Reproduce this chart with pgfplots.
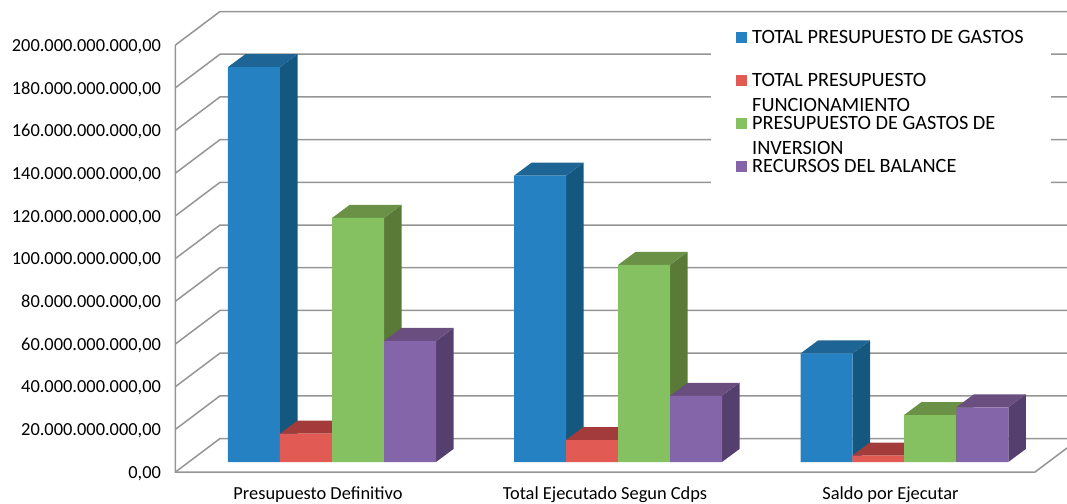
\documentclass[border=0pt]{standalone}
\usepackage{fontspec}
\setmainfont{Carlito}
\usepackage{pgfplots}
\usepackage{pgfplotstable}
\pgfplotsset{compat=1.18}
\definecolor{gridc}{HTML}{959595}
\definecolor{bF}{HTML}{2681C2}\definecolor{bS}{HTML}{15587F}\definecolor{bT}{HTML}{1E6595}
\definecolor{rF}{HTML}{E15A53}\definecolor{rS}{HTML}{8E3230}\definecolor{rT}{HTML}{A33B3B}
\definecolor{gF}{HTML}{85C161}\definecolor{gS}{HTML}{5A7A38}\definecolor{gT}{HTML}{6A9145}
\definecolor{pF}{HTML}{8565A9}\definecolor{pS}{HTML}{553F6E}\definecolor{pT}{HTML}{6A4E80}
% values in thousands of millions
\pgfplotstableread{
x v
254 185.0
540 134.1
826.7 50.9
}\totalgastos
\pgfplotstableread{
x v
306 13.3
592 10.3
878.3 3.0
}\funcionamiento
\pgfplotstableread{
x v
358 114.3
644 92.3
930 22.0
}\inversion
\pgfplotstableread{
x v
410 56.7
696 31.0
982.3 25.6
}\balance
% side and top faces: left edge, value, side colour, top colour
\newcommand{\depthfaces}[4]{%
  \pgfmathsetmacro\xa{#1+52}\pgfmathsetmacro\xb{#1+69.5}\pgfmathsetmacro\xc{#1+17.5}\pgfmathsetmacro\vt{#2+6.09}%
  \edef\tmp{\noexpand\addplot[fill=#3,draw=none,forget plot] coordinates {(\xa,0)(\xb,6.09)(\xb,\vt)(\xa,#2)} --cycle;
  \noexpand\addplot[fill=#4,draw=none,forget plot] coordinates {(#1,#2)(\xa,#2)(\xb,\vt)(\xc,\vt)} --cycle;}\tmp}
\newcommand{\gridl}[1]{%
  \pgfmathsetmacro\va{#1-4.68}\pgfmathsetmacro\vb{#1+11}%
  \edef\tmp{\noexpand\addplot[gridc,line width=1.5pt,forget plot] coordinates {(175.5,\va)(220,\vb)(1067,\vb)};}\tmp}
\newcommand{\LE}[2]{\hspace*{3pt}\smash{\rlap{\raisebox{-25pt}{#2}}}#1}
\pgfplotsset{swatch/.style={legend image code/.code={\fill[##1] (0pt,-5.5pt) rectangle (11pt,5.5pt);}}}
\begin{document}
\begin{tikzpicture}[x=1pt,y=1pt]
\path[use as bounding box] (-175.5,-31) rectangle (891.5,472);
\begin{axis}[
  scale only axis,width=891.5pt,height=472pt,
  xmin=175.5,xmax=1067,ymin=-4.68,ymax=216.4,
  axis line style={draw=none},
  major tick length=0pt,
  clip=false,
  ytick={-4.68,15.32,35.32,55.32,75.32,95.32,115.32,135.32,155.32,175.32,195.32},
  yticklabels={{0,00},{20.000.000.000,00},{40.000.000.000,00},{60.000.000.000,00},{80.000.000.000,00},{100.000.000.000,00},{120.000.000.000,00},{140.000.000.000,00},{160.000.000.000,00},{180.000.000.000,00},{200.000.000.000,00}},
  yticklabel style={font=\fontsize{18.4}{22}\selectfont,xshift=-11pt,yshift=-1.5pt,text=black},
  xtick={318,605,890.5},
  xticklabels={Presupuesto Definitivo,Total Ejecutado Segun Cdps,Saldo por Ejecutar},
  xticklabel style={font=\fontsize{18.4}{22}\selectfont,yshift=-11.5pt,text=black},
  legend style={at={(axis cs:711,208.9)},anchor=north west,draw=none,fill=white,
    font=\fontsize{20.3}{24}\selectfont,inner xsep=25pt,inner ysep=12pt,row sep=24.4pt},
  legend cell align=left,
]
\gridl{0}\gridl{20}\gridl{40}\gridl{60}\gridl{80}\gridl{100}\gridl{120}\gridl{140}\gridl{160}\gridl{180}\gridl{200}
\addplot[gridc,line width=1.5pt,forget plot] coordinates {(175.5,195.32)(175.5,-4.68)(1035,-4.68)(1067,6.56)};
\depthfaces{228}{185.0}{bS}{bT}\depthfaces{514}{134.1}{bS}{bT}\depthfaces{800.7}{50.9}{bS}{bT}
\addplot[ybar,bar width=52,bar shift=0pt,fill=bF,draw=none,swatch] table[x=x,y=v] {\totalgastos};
\addlegendentry{\LE{TOTAL PRESUPUESTO DE GASTOS}{}}
\depthfaces{280}{13.3}{rS}{rT}\depthfaces{566}{10.3}{rS}{rT}\depthfaces{852.3}{3.0}{rS}{rT}
\addplot[ybar,bar width=52,bar shift=0pt,fill=rF,draw=none,swatch] table[x=x,y=v] {\funcionamiento};
\addlegendentry{\LE{TOTAL PRESUPUESTO}{FUNCIONAMIENTO}}
\depthfaces{332}{114.3}{gS}{gT}\depthfaces{618}{92.3}{gS}{gT}\depthfaces{904}{22.0}{gS}{gT}
\addplot[ybar,bar width=52,bar shift=0pt,fill=gF,draw=none,swatch] table[x=x,y=v] {\inversion};
\addlegendentry{\LE{PRESUPUESTO DE GASTOS DE}{INVERSION}}
\depthfaces{384}{56.7}{pS}{pT}\depthfaces{670}{31.0}{pS}{pT}\depthfaces{956.3}{25.6}{pS}{pT}
\addplot[ybar,bar width=52,bar shift=0pt,fill=pF,draw=none,swatch] table[x=x,y=v] {\balance};
\addlegendentry{\LE{RECURSOS DEL BALANCE}{}}
\end{axis}
\end{tikzpicture}
\end{document}
